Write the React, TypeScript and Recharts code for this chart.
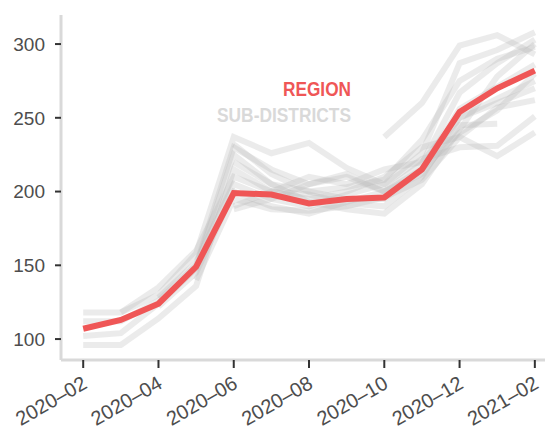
import React from "react"
import { LineChart, Line, XAxis, YAxis } from "recharts"

// month index 0 = 2020-02 ... 12 = 2021-02
const months = [
  "2020–02", "2020–03", "2020–04", "2020–05", "2020–06", "2020–07", "2020–08",
  "2020–09", "2020–10", "2020–11", "2020–12", "2021–01", "2021–02",
]
const xTicks = [0, 2, 4, 6, 8, 10, 12]
const yTicks = [100, 150, 200, 250, 300]

const region = [107, 113, 124, 149, 199, 198, 192, 195, 196, 215, 254, 270, 282]

type V = number | null
const subDistricts: V[][] = [
  [null, null, null, null, null, null, null, null, 237, 260, 299, 306, 293],
  [118, 118, 130, 158, 237, 226, 233, 216, 205, 226, 287, 296, 308],
  [112, 112, 126, 150, 230, 215, 205, 210, 200, 219, 267, 287, 303],
  [102, 104, 124, 148, 225, 205, 200, 195, 195, 215, 256, 271, 286],
  [96, 96, 114, 136, 215, 200, 198, 192, 190, 210, 250, 263, 275],
  [null, 118, 135, 160, 210, 200, 195, 200, 210, 230, 237, 257, 262],
  [null, null, 128, 152, 205, 195, 190, 198, 205, 222, 230, 231, 251],
  [null, null, 122, 145, 200, 190, 185, 193, 200, 212, 245, 246, null],
  [null, null, null, 140, 195, 188, 187, 190, 196, 208, 237, 224, 240],
  [null, null, null, null, 190, 200, 210, 205, 215, 220, 250, 260, 270],
  [null, null, null, null, 188, 195, 205, 212, 200, 215, 240, 255, 280],
  [null, null, null, null, 220, 205, 193, 188, 185, 205, 242, 278, 300],
  [null, null, null, null, 232, 212, 200, 203, 208, 235, 275, 290, 298],
]

const data = months.map((label, i) => {
  const row: Record<string, number | string | null> = { m: i, label, region: region[i] }
  subDistricts.forEach((s, k) => {
    row[`s${k}`] = s[i]
  })
  return row
})

const RED = "#EF5656"
const AXIS = "#d9d9d9"
const FONT = "'Liberation Sans', Arial, sans-serif"

export default function App() {
  return (
    <div style={{ position: "absolute", left: 0, top: 0, width: 545, height: 430, background: "#fff" }}>
      <LineChart width={545} height={430} data={data} margin={{ top: 15, right: 0, left: 0, bottom: 0 }}>
        <XAxis
          dataKey="m"
          type="number"
          domain={[-0.59, 12.27]}
          ticks={xTicks}
          tickFormatter={(v: number) => months[v]}
          angle={-30}
          textAnchor="end"
          tick={{ fontSize: 20, fill: "#4d4d4d", fontFamily: FONT, dx: -2, dy: 5 }}
          tickSize={8}
          height={70}
          interval={0}
          axisLine={{ stroke: AXIS, strokeWidth: 3 }}
          tickLine={{ stroke: "#333", strokeWidth: 2 }}
        />
        <YAxis
          type="number"
          domain={[85.8, 319.7]}
          ticks={yTicks}
          width={61}
          tickSize={6}
          tickMargin={10}
          axisLine={{ stroke: AXIS, strokeWidth: 3 }}
          tickLine={{ stroke: "#333", strokeWidth: 2 }}
          tick={{ fontSize: 19, fill: "#4d4d4d", fontFamily: FONT }}
        />
        {subDistricts.map((_, k) => (
          <Line
            key={k}
            dataKey={`s${k}`}
            stroke="#b8b8b8"
            strokeOpacity={0.28}
            strokeWidth={6}
            dot={false}
            activeDot={false}
            connectNulls={false}
            isAnimationActive={false}
          />
        ))}
        <Line
          dataKey="region"
          stroke={RED}
          strokeWidth={6}
          dot={false}
          activeDot={false}
          isAnimationActive={false}
        />
      </LineChart>
      <svg width={545} height={430} style={{ position: "absolute", left: 0, top: 0, pointerEvents: "none" }}>
        <text
          x={351}
          y={96}
          textAnchor="end"
          fontSize={20}
          fontWeight="bold"
          fill={RED}
          textLength={68}
          lengthAdjust="spacingAndGlyphs"
          fontFamily="'Liberation Sans Narrow', 'Liberation Sans', Arial, sans-serif"
        >
          REGION
        </text>
        <text
          x={351}
          y={122}
          textAnchor="end"
          fontSize={20}
          fontWeight="bold"
          fill="#d9d9d9"
          textLength={134}
          lengthAdjust="spacingAndGlyphs"
          fontFamily="'Liberation Sans Narrow', 'Liberation Sans', Arial, sans-serif"
        >
          SUB-DISTRICTS
        </text>
      </svg>
    </div>
  )
}
